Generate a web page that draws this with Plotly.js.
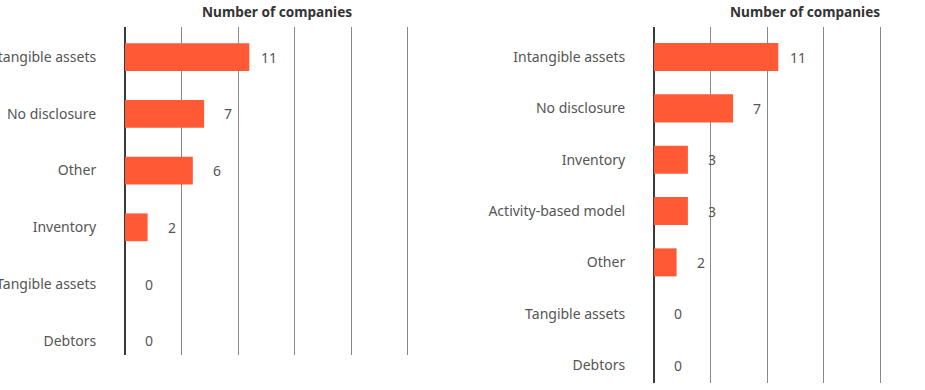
<!DOCTYPE html>
<html>
<head>
<meta charset="utf-8">
<script src="https://cdn.plot.ly/plotly-3.0.1.min.js"></script>
<style>html,body{margin:0;padding:0;background:#fff;}#chart{width:925px;height:390px;}</style>
</head>
<body>
<div id="chart"></div>
<script>
// Left panel
const leftCategories = ["Intangible assets", "No disclosure", "Other", "Inventory", "Tangible assets", "Debtors"];
const leftValues = [11, 7, 6, 2, 0, 0];
// Right panel
const rightCategories = ["Intangible assets", "No disclosure", "Inventory", "Activity-based model", "Other", "Tangible assets", "Debtors"];
const rightValues = [11, 7, 3, 3, 2, 0, 0];
const axisTitle = "Number of companies";

const W = 925, H = 390;
const barColor = "#ff5a35";
const font = {family: "Noto Sans, Roboto, sans-serif", size: 14, color: "#555"};

const traces = [
  {type: "bar", orientation: "h", x: leftValues, y: leftCategories, xaxis: "x", yaxis: "y",
   marker: {color: barColor}, width: 0.49, hoverinfo: "none"},
  {type: "bar", orientation: "h", x: rightValues, y: rightCategories, xaxis: "x2", yaxis: "y2",
   marker: {color: barColor}, width: 0.546, hoverinfo: "none"}
];

const annotations = [];
leftValues.forEach((v, i) => annotations.push({x: v, y: leftCategories[i], xref: "x", yref: "y", text: String(v),
  showarrow: false, xanchor: "right", xshift: 30, font: font}));
rightValues.forEach((v, i) => annotations.push({x: v, y: rightCategories[i], xref: "x2", yref: "y2", text: String(v),
  showarrow: false, xanchor: "right", xshift: 30, font: font}));
[[277, axisTitle], [805, axisTitle]].forEach(([px, t]) => annotations.push({
  x: px / W, y: 1 - 11.5 / H, xref: "paper", yref: "paper", text: "<b>" + t + "</b>", showarrow: false,
  xanchor: "center", yanchor: "middle", font: {family: font.family, size: 13.6, color: "#333"}}));

const xcommon = {
  showgrid: true, gridcolor: "#888", gridwidth: 1, dtick: 5, tick0: 0,
  zeroline: true, zerolinecolor: "#3a3a3a", zerolinewidth: 2,
  showticklabels: false, ticks: "", showline: false, fixedrange: true
};
const ycommon = {
  type: "category", showgrid: false, zeroline: false, showline: false,
  ticks: "outside", ticklen: 25, tickcolor: "rgba(0,0,0,0)",
  tickfont: font, fixedrange: true
};

const layout = {
  width: W, height: H,
  margin: {l: 0, r: 0, t: 0, b: 0},
  paper_bgcolor: "#fff", plot_bgcolor: "#fff",
  showlegend: false,
  font: font,
  xaxis: Object.assign({}, xcommon, {domain: [125 / W, 411 / W], range: [0, 25.3], anchor: "y"}),
  yaxis: Object.assign({}, ycommon, {domain: [1 - 355 / H, 1 - 27 / H], range: [5.25, -0.53], anchor: "x",
    categoryorder: "array", categoryarray: leftCategories}),
  xaxis2: Object.assign({}, xcommon, {domain: [654 / W, 1], range: [0, (W - 654) / 11.3], anchor: "y2"}),
  yaxis2: Object.assign({}, ycommon, {domain: [1 - 383 / H, 1 - 27 / H], range: [6.35, -0.585], anchor: "x2",
    categoryorder: "array", categoryarray: rightCategories}),
  annotations: annotations,
  bargap: 0.5
};

Plotly.newPlot("chart", traces, layout, {displayModeBar: false, staticPlot: true});
</script>
</body>
</html>
